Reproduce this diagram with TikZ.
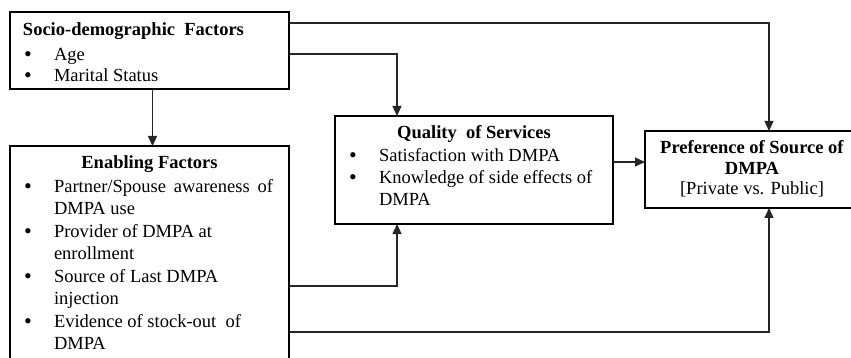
\documentclass[tikz,border=0pt]{standalone}
\usepackage{fontspec}
\setmainfont{Liberation Serif}
\usetikzlibrary{arrows.meta,positioning,calc}
\newcommand{\itm}{\hspace*{14pt}\makebox[30pt][l]{\fontsize{22}{22}\selectfont\raisebox{-0.5pt}{\textbullet}}}
\newcommand{\cont}{\hspace*{44pt}}

\begin{document}
\begin{tikzpicture}[x=1pt,y=-1pt,box/.style={draw,line width=1.1pt,inner sep=0pt,outer sep=0pt,anchor=north west,font=\fontsize{18.5}{22}\selectfont},arr/.style={-{Triangle[width=9pt,length=10pt]},draw=black!85,line width=1.2pt}]
\useasboundingbox (0,0) rectangle (851,358);
% factor boxes
\node[box] (socio) at (10,12) {\parbox[t][77pt][t]{279pt}{%
\hspace*{13pt}\rule{0pt}{23.7pt}\textbf{Socio-demographic\ \ Factors}\par\vspace{3pt}
\itm Age\par\vspace{-1pt}
\itm Marital Status}};
\node[box] (enab) at (10,146) {\parbox[t][216pt][t]{279pt}{%
{\centering\rule{0pt}{23pt}\textbf{Enabling Factors}\par}\vspace{2pt}
\itm\makebox[219pt][s]{Partner/Spouse awareness of}\par
\cont DMPA use\par\vspace{1pt}
\itm Provider of DMPA at\par
\cont enrollment\par\vspace{1pt}
\itm Source of Last DMPA\par
\cont injection\par\vspace{1pt}
\itm Evidence of stock-out\ \ of\par
\cont DMPA}};
\node[box] (qual) at (335,116) {\parbox[t][108pt][t]{278pt}{%
{\centering\rule{0pt}{23pt}\textbf{Quality\ \ of Services}\par}\vspace{1pt}
\itm Satisfaction with DMPA\par
\itm Knowledge of side effects of\par
\cont DMPA}};
\node[box] (pref) at (645,131) {\parbox[t][77pt][t]{214pt}{\centering
\rule{0pt}{23pt}\textbf{Preference of Source of}\par\vspace{-1pt}
\textbf{DMPA}\par\vspace{-2pt}
[Private vs. Public]}};
% links
\coordinate (qe) at ([yshift=8pt]qual.east);
\draw[arr] ([yshift=-11pt]socio.north east) -| ([xshift=17pt]pref.north);
\draw[arr] ([yshift=-42pt]socio.north east) -| ([xshift=-77pt]qual.north);
\draw[arr] ([xshift=3pt]socio.south) -- ([xshift=3pt]enab.north);
\draw[arr] ([yshift=-140pt]enab.north east) -| ([xshift=-77pt]qual.south);
\draw[arr] ([yshift=-186pt]enab.north east) -| ([xshift=17pt]pref.south);
\draw[arr] (qe) -- (qe -| pref.west);
\end{tikzpicture}
\end{document}
